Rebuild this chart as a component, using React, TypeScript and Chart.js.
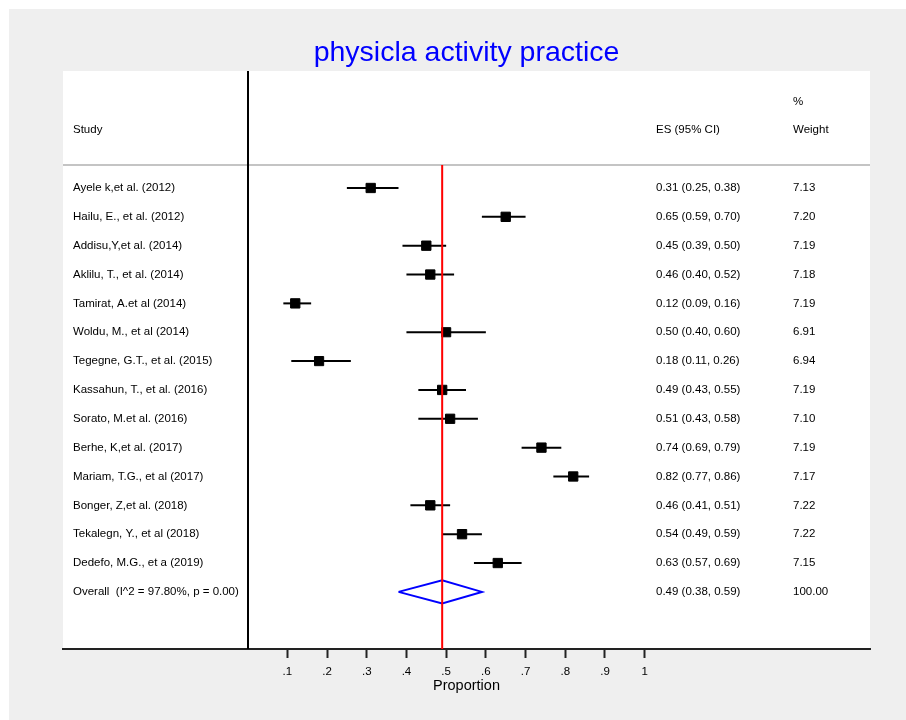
import React, { useEffect, useRef } from 'react';
import { Chart, registerables } from 'chart.js';

Chart.register(...registerables);

const FONT = '"Liberation Sans", Arial, Helvetica, sans-serif';

// ---- data ----
const studies = [
  'Ayele k,et al. (2012)',
  'Hailu, E., et al. (2012)',
  'Addisu,Y,et al. (2014)',
  'Aklilu, T., et al. (2014)',
  'Tamirat, A.et al (2014)',
  'Woldu, M., et al (2014)',
  'Tegegne, G.T., et al. (2015)',
  'Kassahun, T., et al. (2016)',
  'Sorato, M.et al. (2016)',
  'Berhe, K,et al. (2017)',
  'Mariam, T.G., et al (2017)',
  'Bonger, Z,et al. (2018)',
  'Tekalegn, Y., et al (2018)',
  'Dedefo, M.G., et a (2019)',
];
const esValues = [0.31, 0.65, 0.45, 0.46, 0.12, 0.50, 0.18, 0.49, 0.51, 0.74, 0.82, 0.46, 0.54, 0.63];
const ciLow = [0.25, 0.59, 0.39, 0.40, 0.09, 0.40, 0.11, 0.43, 0.43, 0.69, 0.77, 0.41, 0.49, 0.57];
const ciHigh = [0.38, 0.70, 0.50, 0.52, 0.16, 0.60, 0.26, 0.55, 0.58, 0.79, 0.86, 0.51, 0.59, 0.69];
const weights = [7.13, 7.20, 7.19, 7.18, 7.19, 6.91, 6.94, 7.19, 7.10, 7.19, 7.17, 7.22, 7.22, 7.15];

const overallLabel = 'Overall  (I^2 = 97.80%, p = 0.00)';
const overallEs = 0.49;
const overallLow = 0.38;
const overallHigh = 0.59;
const overallWeight = 100.0;

const tickValues = [0.1, 0.2, 0.3, 0.4, 0.5, 0.6, 0.7, 0.8, 0.9, 1.0];
const tickLabels = ['.1', '.2', '.3', '.4', '.5', '.6', '.7', '.8', '.9', '1'];

const titleText = 'physicla activity practice';
const xTitle = 'Proportion';
const headStudy = 'Study';
const headEs = 'ES (95% CI)';
const headPct = '%';
const headWeight = 'Weight';

// rows
const studyRows = studies.map((_, i) => i + 1);
const overallRow = studies.length + 1;
const HEAD_ROW = -1;
const PCT_ROW = -2;
const SEP_ROW = 0.2;
const DIAMOND_HALF = 0.4;

// text column offsets from chartArea.left (px)
const COL_STUDY = 10;
const COL_ES = 593;
const COL_WEIGHT = 730;

const fmt2 = (v: number) => v.toFixed(2);
const esText = (e: number, l: number, h: number) => `${fmt2(e)} (${fmt2(l)}, ${fmt2(h)})`;

const forestPlugin = {
  id: 'forestPlugin',
  beforeDraw(chart: any) {
    const { ctx, chartArea: a } = chart;
    ctx.save();
    ctx.fillStyle = '#ffffff';
    ctx.fillRect(a.left, a.top, a.right - a.left, a.bottom - a.top);
    ctx.restore();
  },
  beforeDatasetsDraw(chart: any) {
    const { ctx, chartArea: a, scales } = chart;
    const x = scales.x;
    const y = scales.y;
    ctx.save();
    // separator line
    const ys = Math.round(y.getPixelForValue(SEP_ROW));
    ctx.strokeStyle = '#c4c4c4';
    ctx.lineWidth = 2;
    ctx.beginPath();
    ctx.moveTo(a.left, ys);
    ctx.lineTo(a.right, ys);
    ctx.stroke();
    // zero line
    const x0 = Math.round(x.getPixelForValue(0));
    ctx.strokeStyle = '#000000';
    ctx.lineWidth = 2;
    ctx.beginPath();
    ctx.moveTo(x0, a.top);
    ctx.lineTo(x0, a.bottom);
    ctx.stroke();

    // texts
    ctx.fillStyle = '#000000';
    ctx.font = `11.5px ${FONT}`;
    ctx.textBaseline = 'middle';
    ctx.textAlign = 'left';
    const xs = a.left + COL_STUDY;
    const xe = a.left + COL_ES;
    const xw = a.left + COL_WEIGHT;
    ctx.fillText(headPct, xw, y.getPixelForValue(PCT_ROW));
    ctx.fillText(headStudy, xs, y.getPixelForValue(HEAD_ROW));
    ctx.fillText(headEs, xe, y.getPixelForValue(HEAD_ROW));
    ctx.fillText(headWeight, xw, y.getPixelForValue(HEAD_ROW));
    studies.forEach((s, i) => {
      const py = y.getPixelForValue(studyRows[i]);
      ctx.fillText(s, xs, py);
      ctx.fillText(esText(esValues[i], ciLow[i], ciHigh[i]), xe, py);
      ctx.fillText(fmt2(weights[i]), xw, py);
    });
    const po = y.getPixelForValue(overallRow);
    ctx.fillText(overallLabel, xs, po);
    ctx.fillText(esText(overallEs, overallLow, overallHigh), xe, po);
    ctx.fillText(fmt2(overallWeight), xw, po);
    ctx.restore();
  },
};

export default function App() {
  const ref = useRef<HTMLCanvasElement | null>(null);

  useEffect(() => {
    if (!ref.current) return;
    Chart.defaults.font.family = FONT;

    const datasets: any[] = [];
    // overall vertical line (on top)
    datasets.push({
      type: 'line',
      data: [
        { x: overallEs, y: SEP_ROW },
        { x: overallEs, y: 16.98 },
      ],
      borderColor: '#ff0000',
      borderWidth: 2,
      pointRadius: 0,
      showLine: true,
      fill: false,
    });
    // diamond
    datasets.push({
      type: 'line',
      data: [
        { x: overallLow, y: overallRow },
        { x: overallEs, y: overallRow - DIAMOND_HALF },
        { x: overallHigh, y: overallRow },
        { x: overallEs, y: overallRow + DIAMOND_HALF },
        { x: overallLow, y: overallRow },
      ],
      borderColor: '#0000ff',
      borderWidth: 2,
      borderJoinStyle: 'miter',
      pointRadius: 0,
      showLine: true,
      fill: false,
    });
    // squares
    datasets.push({
      type: 'scatter',
      data: esValues.map((v, i) => ({ x: v, y: studyRows[i] })),
      pointStyle: 'rect',
      pointRadius: weights.map((w) => 6.6 * Math.sqrt(w / 7.2)),
      backgroundColor: '#000000',
      borderColor: '#000000',
      borderWidth: 1,
    });
    // CI lines
    studies.forEach((_, i) => {
      datasets.push({
        type: 'line',
        data: [
          { x: ciLow[i], y: studyRows[i] },
          { x: ciHigh[i], y: studyRows[i] },
        ],
        borderColor: '#000000',
        borderWidth: 2,
        pointRadius: 0,
        showLine: true,
        fill: false,
      });
    });

    const chart = new Chart(ref.current, {
      type: 'scatter',
      data: { datasets },
      plugins: [forestPlugin],
      options: {
        animation: false,
        responsive: false,
        events: [],
        layout: { padding: { left: 54, right: 36, top: 0, bottom: 0 } },
        plugins: {
          legend: { display: false },
          tooltip: { enabled: false },
          title: {
            display: true,
            text: titleText,
            color: '#0000ff',
            font: { size: 28.5, weight: 'normal', family: FONT },
            padding: { top: 27, bottom: 0.8 },
          },
        },
        scales: {
          x: {
            type: 'linear',
            min: -0.4649,
            max: 1.5674,
            afterBuildTicks: (scale: any) => {
              scale.ticks = tickValues.map((v) => ({ value: v }));
            },
            afterFit: (scale: any) => {
              scale.height = 71;
            },
            ticks: {
              autoSkip: false,
              maxRotation: 0,
              padding: 7,
              color: '#000000',
              font: { size: 11.5, family: FONT },
              callback: (value: any) => {
                const idx = tickValues.findIndex((t) => Math.abs(t - Number(value)) < 1e-9);
                return idx >= 0 ? tickLabels[idx] : '';
              },
            },
            grid: {
              drawOnChartArea: false,
              drawTicks: true,
              tickLength: 9,
              tickWidth: 2,
              tickColor: '#222222',
            },
            border: { display: true, color: '#222222', width: 2 },
            title: {
              display: true,
              text: xTitle,
              color: '#000000',
              font: { size: 14.5, family: FONT },
              padding: { top: 0, bottom: 25.5 },
            },
          },
          y: {
            type: 'linear',
            display: false,
            reverse: true,
            min: -3.055,
            max: 16.98,
          },
        },
      } as any,
    });
    return () => chart.destroy();
  }, []);

  return (
    <div
      style={{
        position: 'fixed',
        left: 9,
        top: 9,
        right: 0,
        bottom: 0,
        background: '#efefef',
      }}
    >
      <canvas ref={ref} width={897} height={711} style={{ display: 'block' }} />
    </div>
  );
}
